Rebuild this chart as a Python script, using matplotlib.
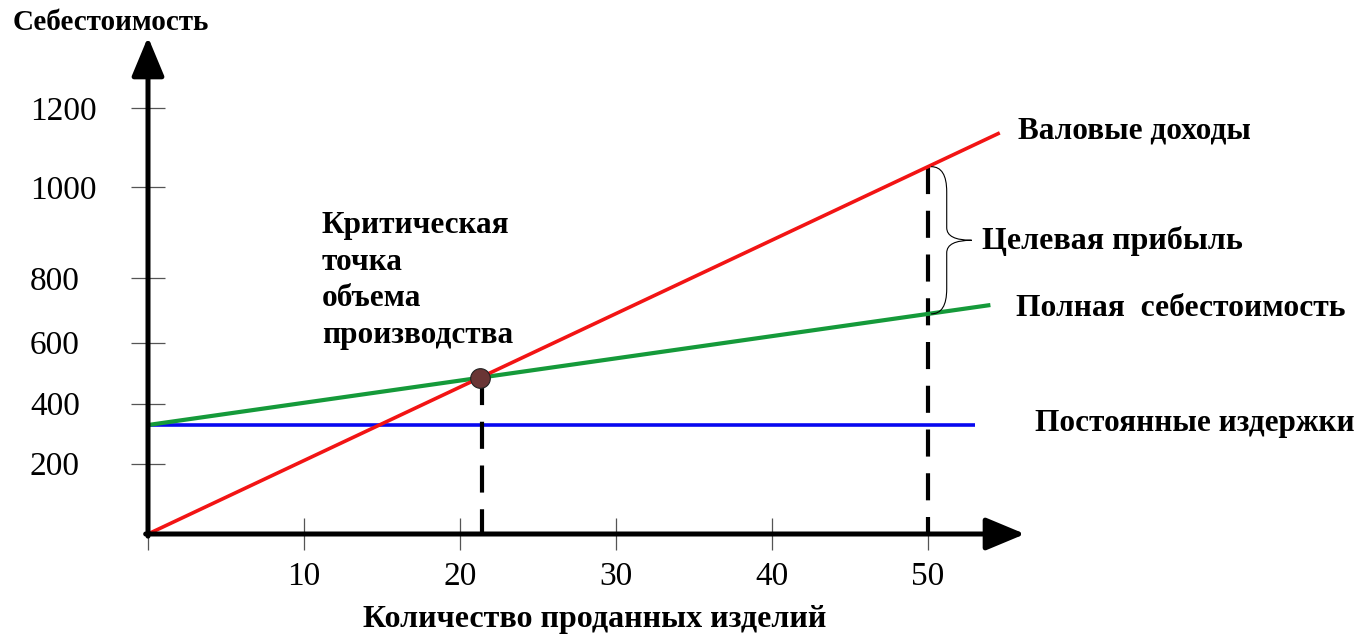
import numpy as np
import matplotlib
matplotlib.use('Agg')
import matplotlib.pyplot as plt
from matplotlib.path import Path
from matplotlib.patches import PathPatch

# Данные
revenue_x = [0, 54.6]      # Валовые доходы
revenue_y = [0, 1130]
total_x = [0, 54.0]        # Полная себестоимость
total_y = [307, 645]
fixed_x = [0, 53.0]        # Постоянные издержки
fixed_y = [307, 307]
target_q = 50              # объем для целевой прибыли

xticks = [0, 10, 20, 30, 40, 50]
xtick_labels = ['', '10', '20', '30', '40', '50']
ytick_labels = ['200', '400', '600', '800', '1000', '1200']
# рисунок нарисован от руки, деления стоят неравномерно
ytick_pos = [198, 367, 539, 721, 977, 1200]

# перевод пикселей картинки в координаты осей (только для подписей)
X0, XS = 148, 15.6
Y0, YS = 534, 0.355
def px2x(p):
    return (p - X0) / XS
def px2y(p):
    return (Y0 - p) / YS

fig = plt.figure(figsize=(13.61, 6.36), dpi=100)
ax = fig.add_axes([0, 0, 1, 1])
ax.set_xlim(px2x(0), px2x(1361))
ax.set_ylim(px2y(636), px2y(0))

for s in ax.spines.values():
    s.set_visible(False)
ax.spines['left'].set_position(('data', 0))
ax.spines['bottom'].set_position(('data', 0))

serif = 'Liberation Serif'

# деления
ax.set_xticks(xticks)
ax.set_xticklabels(xtick_labels, fontfamily=serif, fontsize=24)
ax.set_yticks(ytick_pos)
ax.set_yticklabels(ytick_labels, fontfamily=serif, fontsize=24, ha='left')
ax.tick_params(axis='x', direction='inout', length=23, width=0.9, color='#555555', pad=8)
ax.tick_params(axis='y', direction='inout', length=24, width=0.9, color='#555555', pad=73)

# оси со стрелками
arrow = dict(arrowstyle='-|>,head_length=1.2,head_width=0.5', mutation_scale=20,
             lw=3.6, color='black', shrinkA=0, shrinkB=0)
ax.annotate('', xy=(0, px2y(37)), xytext=(0, -6), arrowprops=arrow, zorder=5)
ax.annotate('', xy=(px2x(1025), 0), xytext=(-0.15, 0), arrowprops=arrow, zorder=5)

# линии
ax.plot(fixed_x, fixed_y, color='#0808f0', lw=2.6, zorder=3, solid_capstyle='butt')
ax.plot(total_x, total_y, color='#159a3a', lw=3.0, zorder=3, solid_capstyle='butt')
ax.plot(revenue_x, revenue_y, color='#f21414', lw=2.6, zorder=3, solid_capstyle='butt')

# точка безубыточности
k_r = (revenue_y[1] - revenue_y[0]) / (revenue_x[1] - revenue_x[0])
k_t = (total_y[1] - total_y[0]) / (total_x[1] - total_x[0])
q_be = (total_y[0] - revenue_y[0]) / (k_r - k_t)
c_be = revenue_y[0] + k_r * q_be
y_target = revenue_y[0] + k_r * target_q
y_total_target = total_y[0] + k_t * target_q

ax.plot([q_be + 0.15, q_be + 0.15], [c_be, 0], color='black', lw=3.0,
        dashes=(6.5, 4.0), zorder=4)
ax.plot([target_q, target_q], [y_target, 0], color='black', lw=3.0,
        dashes=(6.5, 4.0), zorder=2)
ax.scatter([q_be], [c_be], s=200, color='#6a3535', edgecolor='#222222',
           linewidth=0.8, zorder=6)

# фигурная скобка "Целевая прибыль"
bx0 = target_q + 0.2
bxm = bx0 + 1.0
bxt = bx0 + 2.6
top, bot = y_target, y_total_target
mid = (top + bot) / 2
h = 0.17 * (top - bot)
verts = [(bx0, top), (bxm, top), (bxm, top - h), (bxm, mid + 0.5 * h),
         (bxm, mid), (bxt, mid), (bxm, mid), (bxm, mid - 0.5 * h),
         (bxm, bot + h), (bxm, bot), (bx0, bot)]
codes = [Path.MOVETO, Path.CURVE3, Path.CURVE3, Path.LINETO,
         Path.CURVE3, Path.CURVE3, Path.CURVE3, Path.CURVE3,
         Path.LINETO, Path.CURVE3, Path.CURVE3]
ax.add_patch(PathPatch(Path(verts, codes), fill=False, lw=0.8, color='black', zorder=4))

# подписи
bold = dict(fontfamily=serif, fontweight='bold', va='center')
ax.text(px2x(13), px2y(23), 'Себестоимость', fontsize=21, ha='left', **bold)
ax.text(px2x(595), px2y(619), 'Количество проданных изделий', fontsize=23, ha='center', **bold)
ax.text(px2x(1018), px2y(131), 'Валовые доходы', fontsize=22.5, ha='left', **bold)
ax.text(px2x(982), px2y(241), 'Целевая прибыль', fontsize=23, ha='left', **bold)
ax.text(px2x(1016), px2y(308), 'Полная  себестоимость', fontsize=22.7, ha='left', **bold)
ax.text(px2x(1035), px2y(424), 'Постоянные издержки', fontsize=22.5, ha='left', **bold)

crit = ['Критическая', 'точка', 'объема', 'производства']
for i, line in enumerate(crit):
    ax.text(px2x(322), px2y(226 + 36.5 * i), line, fontsize=22.5, ha='left', **bold)

plt.savefig('out.png', dpi=100)
